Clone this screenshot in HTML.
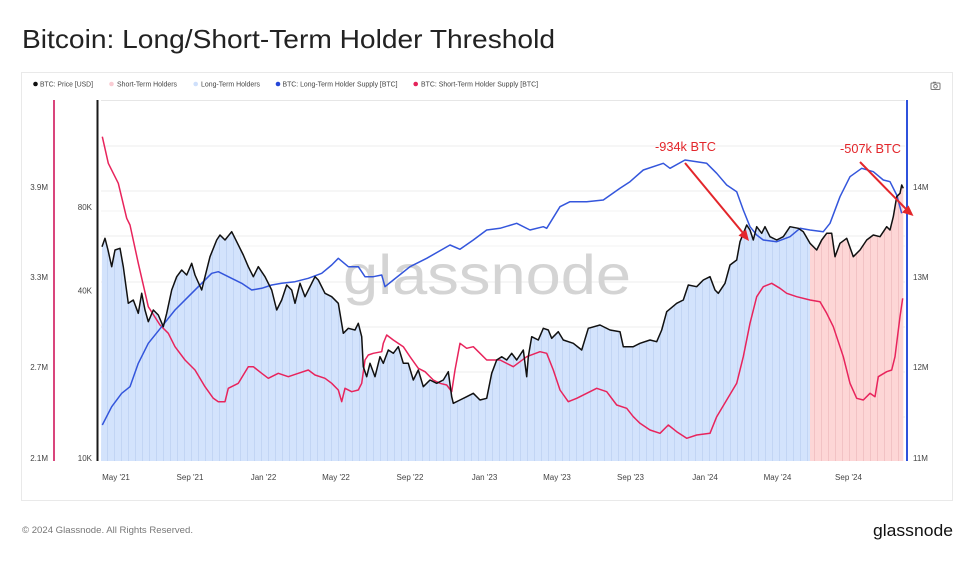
<!DOCTYPE html>
<html><head><meta charset="utf-8"><style>
html,body{margin:0;padding:0;background:#fff;width:974px;height:561px;overflow:hidden}
svg{display:block}
text{font-family:"Liberation Sans",Arial,sans-serif}
</style></head><body>
<svg width="974" height="561" viewBox="0 0 974 561" xmlns="http://www.w3.org/2000/svg">
<defs>
<pattern id="pb" width="7" height="10" patternUnits="userSpaceOnUse" x="101">
<rect width="7" height="10" fill="#d3e3fc"/><rect x="6" width="1" height="10" fill="#c2d5f4"/></pattern>
<pattern id="pp" width="7" height="10" patternUnits="userSpaceOnUse" x="101">
<rect width="7" height="10" fill="#fdd6d6"/><rect x="6" width="1" height="10" fill="#f2c2c4"/></pattern>
<clipPath id="cb"><rect x="100" y="90" width="710" height="380"/></clipPath>
<clipPath id="cp"><rect x="810" y="90" width="94" height="380"/></clipPath>
</defs>
<rect width="974" height="561" fill="#fff"/>
<text x="22" y="48" font-size="26" fill="#222" textLength="533" lengthAdjust="spacingAndGlyphs">Bitcoin: Long/Short-Term Holder Threshold</text>
<rect x="21.5" y="72.5" width="931" height="428" fill="#fff" stroke="#e9e9e9"/>
<!-- legend -->
<g font-size="7" fill="#444">
<circle cx="35.5" cy="84" r="2.3" fill="#111"/><text x="40" y="86.5" textLength="53" lengthAdjust="spacingAndGlyphs">BTC: Price [USD]</text>
<circle cx="111.5" cy="84" r="2.3" fill="#f9ccd3"/><text x="117" y="86.5" textLength="60" lengthAdjust="spacingAndGlyphs">Short-Term Holders</text>
<circle cx="195.7" cy="84" r="2.3" fill="#cfe0fb"/><text x="201" y="86.5" textLength="59" lengthAdjust="spacingAndGlyphs">Long-Term Holders</text>
<circle cx="278" cy="84" r="2.3" fill="#2446d8"/><text x="282.5" y="86.5" textLength="115" lengthAdjust="spacingAndGlyphs">BTC: Long-Term Holder Supply [BTC]</text>
<circle cx="415.7" cy="84" r="2.3" fill="#e4235a"/><text x="421" y="86.5" textLength="117" lengthAdjust="spacingAndGlyphs">BTC: Short-Term Holder Supply [BTC]</text>
</g>
<!-- camera icon -->
<g fill="none" stroke="#777" stroke-width="1">
<rect x="931" y="83" width="9" height="6.5" rx="1"/><circle cx="935.5" cy="86.3" r="1.8"/><rect x="933" y="81.8" width="3" height="1.3" fill="#777" stroke="none"/>
</g>
<!-- grid -->
<g stroke="#ececec" stroke-width="1">
<line x1="101" y1="100.5" x2="905" y2="100.5" stroke="#e6e6e6"/>
<line x1="101" y1="146" x2="905" y2="146"/>
<line x1="101" y1="191" x2="905" y2="191"/>
<line x1="101" y1="211" x2="905" y2="211" stroke="#f3f3f3"/>
<line x1="101" y1="236" x2="905" y2="236"/>
<line x1="101" y1="246" x2="905" y2="246" stroke="#f3f3f3"/>
<line x1="101" y1="282" x2="905" y2="282"/>
<line x1="101" y1="327" x2="905" y2="327"/>
<line x1="101" y1="372" x2="905" y2="372"/>
<line x1="101" y1="417" x2="905" y2="417"/>
</g>
<!-- watermark -->
<text x="343" y="294" font-size="56" fill="#d4d4d4" textLength="288" lengthAdjust="spacingAndGlyphs">glassnode</text>
<!-- fills -->
<path id="fillp" d="M101,461 L102,246.7 105,238.3 108,250 111.7,266.7 115,250 120,248.3 123.3,266.7 128.3,303.3 133.3,300 138.3,313.3 141.7,293.3 145,310 148.3,321.7 153.3,310 158.3,315 163.3,326.7 166.7,313.3 171.7,290 176.7,276.7 181.7,270 186.7,275 191.7,263.3 195,275 201.7,290 205,276.7 210,256.7 216.7,240 220,235 225,240 231.7,231.7 236.7,241.7 243.3,255 248.3,266.7 253.3,276.7 258.3,266.7 265,276.7 271.7,290 276.7,310 281.7,300 286.7,285 291.7,290 295,303.3 300,283.3 305,296.7 310,286.7 315,276.7 318.3,280 325,293.3 331.7,296.7 338.3,303.3 343.3,333.3 348.3,328.3 355,330 358.3,323.3 361.7,336.7 363.3,366.7 366.7,376.7 370,363.3 375,376.7 380,356.7 383.3,363.3 388.3,350 393.3,353.3 398.3,346.7 403.3,363.3 408.3,363.3 413.3,380 418.3,370 423.3,386.7 430,380 436.7,383.3 443.3,380 448.3,371.7 451.7,396.7 453.3,403.3 460,400 466.7,396.7 473.3,393.3 480,400 486.7,398.3 491.7,373.3 496.7,360 501.7,356.7 506.7,360 511.7,353.3 516.7,360 523.3,350 526.7,376.7 528.3,356.7 531.7,336.7 538.3,340 543.3,328.3 548.3,330 551.7,338.3 558.3,331.7 563.3,340 573.3,343.3 581.7,350 588.3,328.3 600,325 610,330 620,331.7 623.3,346.7 633.3,346.7 640,343.3 650,340 656.7,341.7 661.7,330 666.7,311.7 676.7,303.3 683.3,300 688.3,285 696.7,286.7 703.3,280 710,276.7 715,290 718.3,293.3 725,283.3 730,265 736.7,260 740,241.7 746.7,225 750,230 753.3,240 756.7,226.7 761.7,233.3 765,226.7 770,236.7 776.7,240 783.3,236.7 790,226.7 798.3,228.3 803.3,231.7 810,243.3 816.7,250 821.7,240 826.7,233.3 831.7,233.3 835,256.7 840,243.3 846.7,238.3 853.3,256.7 860,250 866.7,240 873.3,235 880,236.7 886.7,226.7 890,230 893.3,216.7 896.7,196.7 900,193.3 901.7,185 903.3,188.3 L903.3,461 Z" fill="url(#pb)" clip-path="url(#cb)"/>
<use href="#fillp" fill="url(#pp)" clip-path="url(#cp)"/>
<path d="M101,461 L102,246.7 105,238.3 108,250 111.7,266.7 115,250 120,248.3 123.3,266.7 128.3,303.3 133.3,300 138.3,313.3 141.7,293.3 145,310 148.3,321.7 153.3,310 158.3,315 163.3,326.7 166.7,313.3 171.7,290 176.7,276.7 181.7,270 186.7,275 191.7,263.3 195,275 201.7,290 205,276.7 210,256.7 216.7,240 220,235 225,240 231.7,231.7 236.7,241.7 243.3,255 248.3,266.7 253.3,276.7 258.3,266.7 265,276.7 271.7,290 276.7,310 281.7,300 286.7,285 291.7,290 295,303.3 300,283.3 305,296.7 310,286.7 315,276.7 318.3,280 325,293.3 331.7,296.7 338.3,303.3 343.3,333.3 348.3,328.3 355,330 358.3,323.3 361.7,336.7 363.3,366.7 366.7,376.7 370,363.3 375,376.7 380,356.7 383.3,363.3 388.3,350 393.3,353.3 398.3,346.7 403.3,363.3 408.3,363.3 413.3,380 418.3,370 423.3,386.7 430,380 436.7,383.3 443.3,380 448.3,371.7 451.7,396.7 453.3,403.3 460,400 466.7,396.7 473.3,393.3 480,400 486.7,398.3 491.7,373.3 496.7,360 501.7,356.7 506.7,360 511.7,353.3 516.7,360 523.3,350 526.7,376.7 528.3,356.7 531.7,336.7 538.3,340 543.3,328.3 548.3,330 551.7,338.3 558.3,331.7 563.3,340 573.3,343.3 581.7,350 588.3,328.3 600,325 610,330 620,331.7 623.3,346.7 633.3,346.7 640,343.3 650,340 656.7,341.7 661.7,330 666.7,311.7 676.7,303.3 683.3,300 688.3,285 696.7,286.7 703.3,280 710,276.7 715,290 718.3,293.3 725,283.3 730,265 736.7,260 740,241.7 746.7,225 750,230 753.3,240 756.7,226.7 761.7,233.3 765,226.7 770,236.7 776.7,240 783.3,236.7 790,226.7 798.3,228.3 803.3,231.7 810,243.3 816.7,250 821.7,240 826.7,233.3 831.7,233.3 835,256.7 840,243.3 846.7,238.3 853.3,256.7 860,250 866.7,240 873.3,235 880,236.7 886.7,226.7 890,230 893.3,216.7 896.7,196.7 900,193.3 901.7,185 903.3,188.3 L903.3,461 Z" fill="url(#pp)" clip-path="url(#cp)"/>
<!-- STH supply (pink) -->
<polyline fill="none" stroke="#e8245c" stroke-width="1.5" stroke-linejoin="round" points="102.3,136.7 108.3,163.3 118.3,183.3 126.7,218.3 130,225 138.3,263.3 148.3,306.7 160,325 168.3,333.3 175,346.7 185,360 195,370 205,386.7 213.3,398.3 218.3,401.7 225,401.7 228.3,388.3 238.3,383.3 248.3,366.7 253.3,366.7 261.7,373.3 268.3,378.3 278.3,373.3 288.3,376.7 298.3,373.3 308.3,370 315,375 325,378.3 331.7,383.3 338.3,390 341.7,401.7 345,388.3 351.7,391.7 358.3,390 361.7,383.3 365,360 368.3,355 373.3,353.3 381.7,351.7 383.3,343.3 386.7,335 393.3,340 403.3,346.7 410,356.7 418.3,368.3 425,371.7 433.3,380 440,383.3 446.7,385 451.7,391.7 455,370 460,343.3 466.7,348.3 473.3,346.7 480,353.3 486.7,360 500,360 513.3,366.7 526.7,356.7 540,351.7 546.7,353.3 553.3,370 560,390 568.3,401.7 576.7,398.3 586.7,393.3 596.7,388.3 606.7,391.7 616.7,405 626.7,408.3 633.3,416.7 640,423.3 650,430 660,433.3 668.3,425 676.7,431.7 686.7,438.3 696.7,435 710,433.3 716.7,416.7 726.7,400 736.7,383.3 743.3,356.7 750,323.3 756.7,296.7 763.3,286.7 771.7,283.3 780,288.3 786.7,293.3 796.7,296.7 810,300 820,301.7 826.7,313.3 833.3,326.7 843.3,356.7 850,383.3 856.7,398.3 863.3,400 870,393.3 875,396.7 878.3,376.7 886.7,371.7 891.7,370 895,356.7 900,316.7 902.7,298.3"/>
<!-- LTH supply (blue) -->
<polyline fill="none" stroke="#3456dc" stroke-width="1.5" stroke-linejoin="round" points="102.3,425 111.7,406.7 121.7,393.3 130,386.7 138.3,363.3 148.3,343.3 161.7,326.7 175,310 188.3,296.7 201.7,283.3 211.7,273.3 218.3,271.7 228.3,276.7 241.7,283.3 251.7,290 261.7,288.3 271.7,285 281.7,283.3 295,281.7 308.3,278.3 321.7,273.3 331.7,265 338.3,258.3 348.3,266.7 358.3,266.7 365,276.7 373.3,276.7 381.7,275 385,286.7 393.3,280 410,266.7 426.7,258.3 450,245 460,249.3 473.3,240 486.7,230 500,228.3 516.7,223.3 530,230 543.3,226.7 546.7,228.3 560,206.7 570,201.7 586.7,201.7 603.3,200 620,188.3 630,181.7 643.3,170 663.3,163.3 670,168.3 685,160 706.7,163.3 716.7,173.3 726.7,185 736.7,191.7 743.3,210 750,226.7 756.7,235 763.3,240 776.7,241.7 790,236.7 800,228.3 810,230 823.3,231.7 830,223.3 840,196.7 850,176.7 861.7,168.3 873.3,171.7 883.3,180 890,181.7 896.7,195 901.7,213.3"/>
<!-- price (black) -->
<polyline fill="none" stroke="#111" stroke-width="1.5" stroke-linejoin="round" points="102,246.7 105,238.3 108,250 111.7,266.7 115,250 120,248.3 123.3,266.7 128.3,303.3 133.3,300 138.3,313.3 141.7,293.3 145,310 148.3,321.7 153.3,310 158.3,315 163.3,326.7 166.7,313.3 171.7,290 176.7,276.7 181.7,270 186.7,275 191.7,263.3 195,275 201.7,290 205,276.7 210,256.7 216.7,240 220,235 225,240 231.7,231.7 236.7,241.7 243.3,255 248.3,266.7 253.3,276.7 258.3,266.7 265,276.7 271.7,290 276.7,310 281.7,300 286.7,285 291.7,290 295,303.3 300,283.3 305,296.7 310,286.7 315,276.7 318.3,280 325,293.3 331.7,296.7 338.3,303.3 343.3,333.3 348.3,328.3 355,330 358.3,323.3 361.7,336.7 363.3,366.7 366.7,376.7 370,363.3 375,376.7 380,356.7 383.3,363.3 388.3,350 393.3,353.3 398.3,346.7 403.3,363.3 408.3,363.3 413.3,380 418.3,370 423.3,386.7 430,380 436.7,383.3 443.3,380 448.3,371.7 451.7,396.7 453.3,403.3 460,400 466.7,396.7 473.3,393.3 480,400 486.7,398.3 491.7,373.3 496.7,360 501.7,356.7 506.7,360 511.7,353.3 516.7,360 523.3,350 526.7,376.7 528.3,356.7 531.7,336.7 538.3,340 543.3,328.3 548.3,330 551.7,338.3 558.3,331.7 563.3,340 573.3,343.3 581.7,350 588.3,328.3 600,325 610,330 620,331.7 623.3,346.7 633.3,346.7 640,343.3 650,340 656.7,341.7 661.7,330 666.7,311.7 676.7,303.3 683.3,300 688.3,285 696.7,286.7 703.3,280 710,276.7 715,290 718.3,293.3 725,283.3 730,265 736.7,260 740,241.7 746.7,225 750,230 753.3,240 756.7,226.7 761.7,233.3 765,226.7 770,236.7 776.7,240 783.3,236.7 790,226.7 798.3,228.3 803.3,231.7 810,243.3 816.7,250 821.7,240 826.7,233.3 831.7,233.3 835,256.7 840,243.3 846.7,238.3 853.3,256.7 860,250 866.7,240 873.3,235 880,236.7 886.7,226.7 890,230 893.3,216.7 896.7,196.7 900,193.3 901.7,185 903.3,188.3"/>
<!-- axes -->
<line x1="54" y1="100" x2="54" y2="461" stroke="#d9457c" stroke-width="2"/>
<line x1="97.5" y1="100" x2="97.5" y2="461" stroke="#1a1a1a" stroke-width="2"/>
<line x1="907" y1="100" x2="907" y2="461" stroke="#2f52dc" stroke-width="2"/>
<g font-size="8" fill="#444">
<text x="48" y="190" text-anchor="end">3.9M</text>
<text x="48" y="280" text-anchor="end">3.3M</text>
<text x="48" y="370" text-anchor="end">2.7M</text>
<text x="48" y="461" text-anchor="end">2.1M</text>
<text x="92" y="210" text-anchor="end">80K</text>
<text x="92" y="293.5" text-anchor="end">40K</text>
<text x="92" y="461" text-anchor="end">10K</text>
<text x="913" y="190">14M</text>
<text x="913" y="280">13M</text>
<text x="913" y="370">12M</text>
<text x="913" y="461">11M</text>
</g>
<g font-size="8" fill="#444" text-anchor="middle">
<text x="116" y="480">May '21</text>
<text x="190" y="480">Sep '21</text>
<text x="263.5" y="480">Jan '22</text>
<text x="336" y="480">May '22</text>
<text x="410" y="480">Sep '22</text>
<text x="484.5" y="480">Jan '23</text>
<text x="557" y="480">May '23</text>
<text x="630.5" y="480">Sep '23</text>
<text x="705" y="480">Jan '24</text>
<text x="777.5" y="480">May '24</text>
<text x="848.5" y="480">Sep '24</text>
</g>
<!-- annotations -->
<g fill="#e3262b">
<text x="655" y="151" font-size="12.5" textLength="61" lengthAdjust="spacingAndGlyphs">-934k BTC</text>
<text x="840" y="153" font-size="12.5" textLength="61" lengthAdjust="spacingAndGlyphs">-507k BTC</text>
</g>
<g stroke="#e3262b" stroke-width="2" fill="#e3262b">
<line x1="685" y1="163" x2="743" y2="233"/>
<polygon points="749,241 738.5,235.5 746,229.5" stroke="none"/>
<line x1="860" y1="162" x2="906" y2="209"/>
<polygon points="913.5,216 902,212.5 908.5,205.5" stroke="none"/>
</g>
<!-- footer -->
<text x="22" y="533" font-size="9.5" fill="#777" textLength="171" lengthAdjust="spacingAndGlyphs">© 2024 Glassnode. All Rights Reserved.</text>
<text x="873" y="536" font-size="17" fill="#111" textLength="80" lengthAdjust="spacingAndGlyphs">glassnode</text>
</svg>
</body></html>
